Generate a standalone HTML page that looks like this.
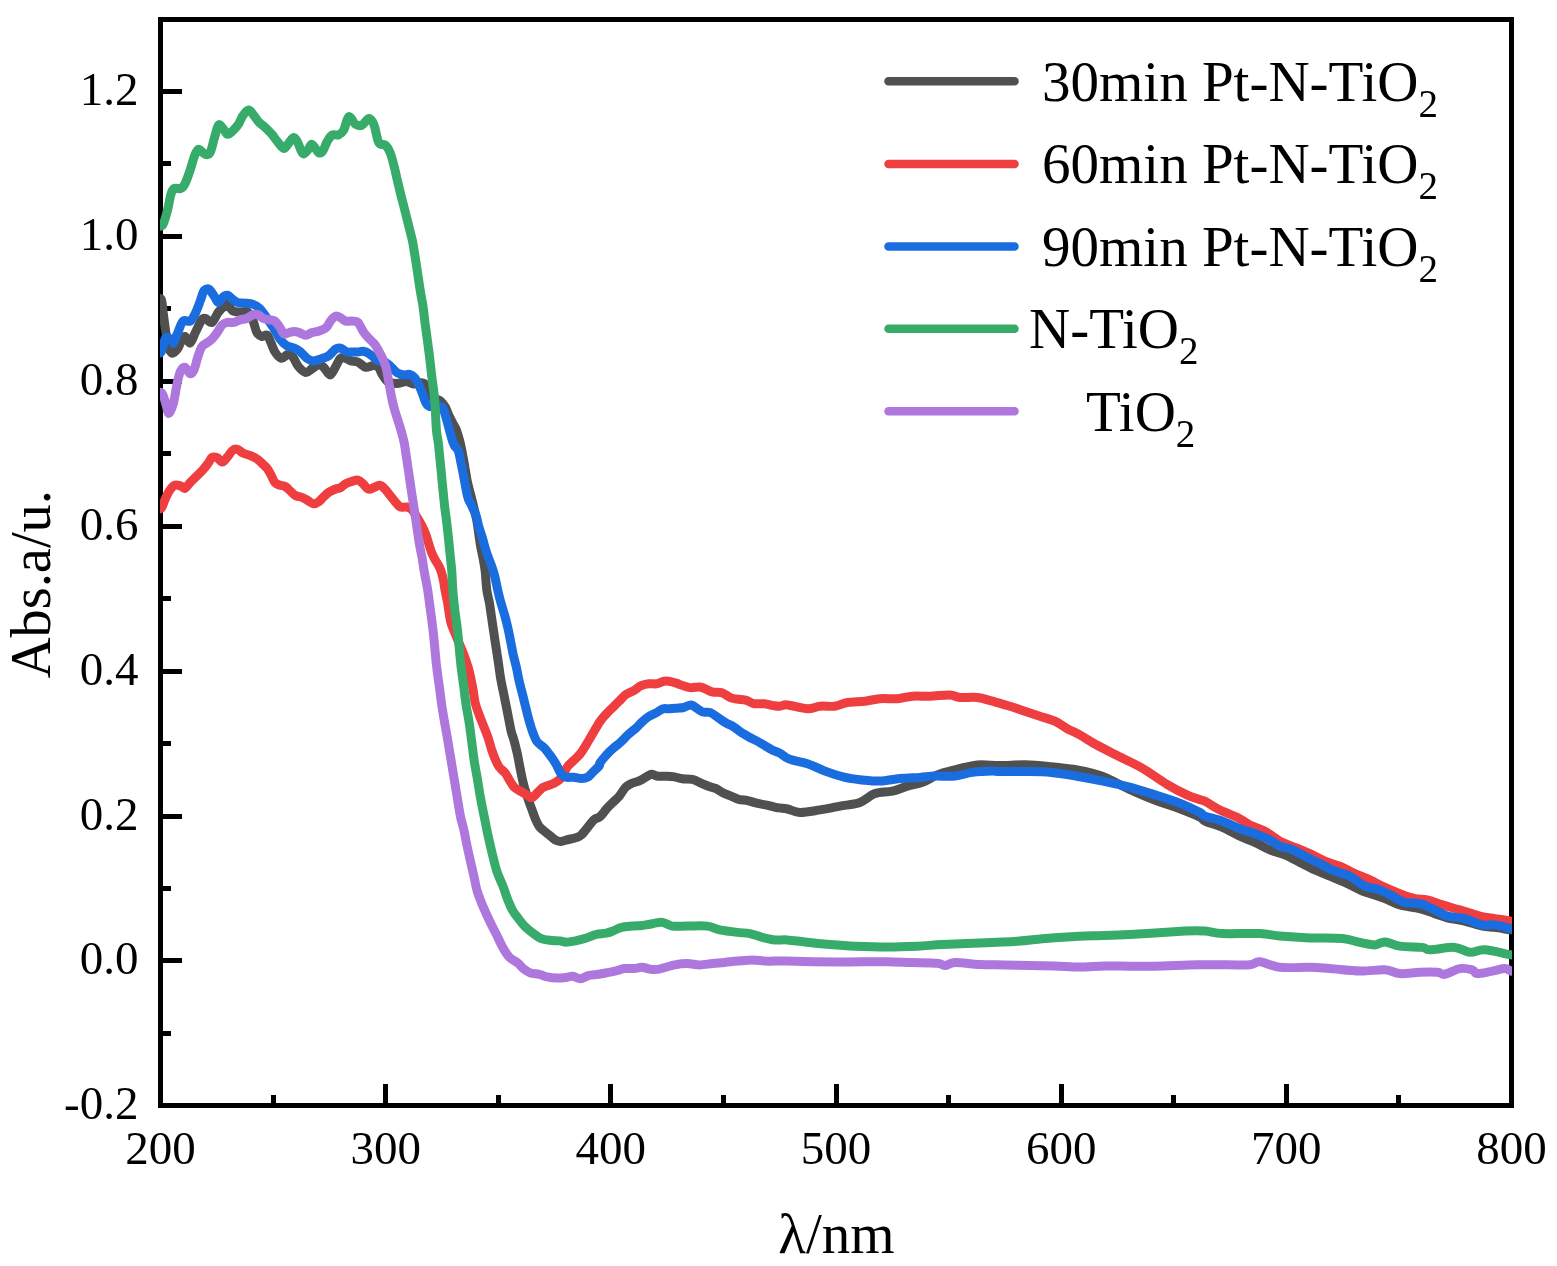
<!DOCTYPE html>
<html><head><meta charset="utf-8"><style>html,body{margin:0;padding:0;background:#fff;overflow:hidden}svg{display:block}</style></head>
<body>
<svg width="1557" height="1266" viewBox="0 0 1557 1266">
<rect width="1557" height="1266" fill="#fff"/>
<defs><clipPath id="c"><rect x="160" y="0" width="1352" height="1266"/></clipPath></defs>
<path d="M160.5,1105.50H182.0M160.5,1033.50H171.0M160.5,960.50H182.0M160.5,888.50H171.0M160.5,816.50H182.0M160.5,743.50H171.0M160.5,671.50H182.0M160.5,598.50H171.0M160.5,526.50H182.0M160.5,453.50H171.0M160.5,381.50H182.0M160.5,308.50H171.0M160.5,236.50H182.0M160.5,163.50H171.0M160.5,91.50H182.0M160.50,1105.5V1084.0M273.50,1105.5V1095.0M385.50,1105.5V1084.0M498.50,1105.5V1095.0M610.50,1105.5V1084.0M723.50,1105.5V1095.0M836.50,1105.5V1084.0M948.50,1105.5V1095.0M1061.50,1105.5V1084.0M1173.50,1105.5V1095.0M1286.50,1105.5V1084.0M1398.50,1105.5V1095.0M1511.50,1105.5V1084.0" stroke="#000" stroke-width="5" fill="none"/>
<rect x="160.5" y="19.5" width="1351.0" height="1086.0" fill="none" stroke="#000" stroke-width="5"/>
<g clip-path="url(#c)" fill="none" stroke-width="9" stroke-linejoin="round" stroke-linecap="round">
<path stroke="#505050" d="M156.0,299.3C156.9,299.3 160.0,297.2 161.2,299.3C162.4,301.4 162.3,306.8 163.1,312.1C163.8,317.5 164.8,325.6 165.7,331.4C166.6,337.2 167.2,343.2 168.3,346.8C169.4,350.4 170.6,352.8 172.1,353.2C173.6,353.6 175.8,351.2 177.3,349.3C178.8,347.4 179.8,343.7 181.1,341.6C182.4,339.5 183.5,336.3 185.0,336.5C186.5,336.7 188.4,343.5 190.1,342.9C191.8,342.2 193.4,336.5 195.3,332.6C197.2,328.8 200.0,322.2 201.7,319.8C203.4,317.4 203.8,318.1 205.5,318.5C207.2,318.9 209.8,323.5 211.9,322.4C214.1,321.3 216.2,314.9 218.4,312.1C220.6,309.3 223.2,307.0 224.8,305.7C226.4,304.4 226.7,303.5 228.0,304.4C229.3,305.2 230.5,309.5 232.5,310.8C234.5,312.1 237.6,311.9 240.2,312.1C242.8,312.3 245.8,310.6 247.9,312.1C250.1,313.6 251.6,317.7 253.1,321.1C254.6,324.5 255.4,330.0 256.9,332.6C258.4,335.2 260.3,336.1 262.0,336.5C263.7,336.9 265.7,334.1 267.2,335.2C268.7,336.3 269.7,340.1 271.0,342.9C272.3,345.7 273.2,349.3 274.9,351.9C276.6,354.5 279.2,357.9 281.3,358.3C283.4,358.7 285.8,354.7 287.7,354.5C289.6,354.3 291.2,355.1 292.9,357.0C294.6,358.9 295.9,363.4 298.0,366.0C300.1,368.6 303.3,372.1 305.7,372.5C308.1,372.9 310.0,369.9 312.1,368.6C314.2,367.3 316.7,365.0 318.6,364.8C320.5,364.6 321.8,365.6 323.7,367.3C325.6,369.0 328.2,375.0 330.1,375.0C332.0,375.0 333.6,370.1 335.3,367.3C337.0,364.5 338.7,359.8 340.4,358.3C342.1,356.8 343.8,357.9 345.5,358.3C347.2,358.7 348.6,360.2 350.7,360.9C352.8,361.5 355.5,361.1 358.0,362.2C360.5,363.3 363.1,366.8 365.7,367.3C368.3,367.8 371.2,365.4 373.4,365.4C375.5,365.4 377.2,365.9 378.6,367.3C380.0,368.7 380.3,371.4 381.8,373.7C383.3,376.0 385.1,379.8 387.5,381.4C389.9,383.0 393.9,383.3 396.5,383.4C399.1,383.5 401.3,382.4 403.0,382.1C404.7,381.8 405.1,381.1 406.8,381.4C408.5,381.7 411.1,383.8 413.2,384.0C415.3,384.2 417.8,382.7 419.7,382.7C421.6,382.7 423.3,382.3 424.8,384.0C426.3,385.7 427.1,390.6 428.6,393.0C430.1,395.4 431.9,396.8 433.8,398.1C435.7,399.4 438.3,399.2 440.2,400.7C442.1,402.2 443.8,404.5 445.3,407.1C446.8,409.7 447.9,413.3 449.2,416.1C450.5,418.9 451.9,421.5 453.1,423.8C454.3,426.1 455.2,426.8 456.4,430.0C457.6,433.2 459.1,438.5 460.2,442.8C461.3,447.1 462.0,451.4 462.8,455.7C463.6,460.0 464.4,464.2 465.1,468.5C465.9,472.8 466.4,477.1 467.3,481.4C468.2,485.7 469.4,489.9 470.5,494.2C471.6,498.5 472.7,502.7 473.7,507.0C474.7,511.3 475.9,515.6 476.7,519.9C477.5,524.2 478.0,528.4 478.6,532.7C479.2,537.0 479.8,541.3 480.5,545.6C481.2,549.9 482.3,554.1 483.1,558.4C483.9,562.7 484.6,566.0 485.2,571.3C485.8,576.6 486.1,584.8 486.8,590.0C487.5,595.2 488.6,598.5 489.4,602.8C490.1,607.1 490.7,611.4 491.3,615.7C491.9,620.0 492.6,624.2 493.2,628.5C493.8,632.8 494.5,637.1 495.1,641.4C495.8,645.7 496.5,649.9 497.1,654.2C497.8,658.5 498.4,662.7 499.0,667.0C499.6,671.3 500.1,675.6 500.9,679.9C501.6,684.2 502.6,688.4 503.5,692.7C504.4,697.0 505.2,701.3 506.1,705.6C507.0,709.9 507.8,714.1 508.6,718.4C509.5,722.7 510.3,727.7 511.2,731.3C512.1,734.9 512.9,736.4 513.9,740.0C514.9,743.6 516.1,748.5 517.1,752.8C518.1,757.1 518.8,761.4 519.6,765.7C520.5,770.0 521.3,774.6 522.2,778.5C523.1,782.4 523.7,785.1 524.8,788.8C525.9,792.4 527.4,797.0 528.6,800.4C529.8,803.8 530.7,806.3 531.8,809.3C532.9,812.3 533.9,815.5 535.1,818.3C536.3,821.1 537.6,824.1 538.9,826.0C540.2,827.9 541.1,828.4 542.8,829.9C544.5,831.4 547.1,833.3 549.2,835.0C551.3,836.7 553.7,839.1 555.6,840.2C557.5,841.3 558.6,841.5 560.7,841.4C562.9,841.3 565.9,840.1 568.5,839.5C571.1,838.9 574.1,838.4 576.2,837.6C578.3,836.9 579.4,836.7 581.3,835.0C583.2,833.3 585.6,829.9 587.7,827.3C589.8,824.7 592.1,821.4 594.1,819.6C596.1,817.8 598.0,818.5 600.0,816.7C602.0,814.9 604.3,811.4 606.4,809.0C608.5,806.6 610.6,804.6 612.8,802.5C614.9,800.4 617.1,798.7 619.3,796.1C621.4,793.5 623.6,789.2 625.7,787.1C627.8,785.0 629.8,784.4 632.1,783.3C634.5,782.2 637.4,781.8 639.8,780.7C642.1,779.6 644.3,778.0 646.2,776.9C648.1,775.8 649.5,774.4 651.4,774.3C653.3,774.2 655.2,775.9 657.8,776.2C660.4,776.5 664.0,776.1 666.8,776.2C669.6,776.3 671.9,776.5 674.5,776.9C677.1,777.3 679.2,778.4 682.2,778.8C685.2,779.2 689.3,778.6 692.5,779.4C695.7,780.1 698.7,782.1 701.5,783.3C704.3,784.5 706.9,785.6 709.2,786.5C711.6,787.4 713.2,787.3 715.6,788.4C718.0,789.5 720.7,791.6 723.3,792.9C725.9,794.2 728.4,795.0 731.0,796.1C733.6,797.2 735.9,798.5 738.7,799.3C741.5,800.0 744.7,800.0 747.7,800.6C750.7,801.2 753.5,802.5 756.7,803.2C759.9,804.0 763.6,804.4 767.0,805.1C770.4,805.9 773.9,807.1 777.3,807.7C780.7,808.4 783.7,808.2 787.5,809.0C791.3,809.8 794.6,812.2 800.0,812.4C805.4,812.5 813.3,810.9 820.0,809.9C826.7,808.9 833.4,807.4 840.0,806.1C846.6,804.9 854.1,804.5 859.9,802.4C865.7,800.3 869.5,795.5 874.9,793.6C880.3,791.7 887.0,792.4 892.4,791.1C897.8,789.9 902.4,787.6 907.4,786.1C912.4,784.6 917.4,784.3 922.4,782.4C927.4,780.5 932.0,777.0 937.4,774.9C942.8,772.8 948.2,771.6 954.9,769.9C961.6,768.2 969.9,765.6 977.4,764.9C984.9,764.2 992.0,765.6 1000.0,765.6C1008.0,765.6 1017.1,764.5 1025.7,764.7C1034.3,764.9 1042.8,765.9 1051.4,766.8C1060.0,767.7 1068.5,768.4 1077.1,770.0C1085.7,771.6 1094.2,773.3 1102.8,776.5C1111.4,779.7 1120.0,785.1 1128.5,789.0C1137.0,792.9 1145.5,796.6 1154.1,799.9C1162.6,803.2 1172.1,805.9 1179.8,808.8C1187.5,811.7 1195.8,815.1 1200.0,817.2C1204.2,819.3 1201.2,819.5 1205.0,821.2C1208.8,822.9 1216.7,824.9 1222.5,827.4C1228.3,829.9 1234.5,833.7 1239.9,836.2C1245.3,838.7 1249.9,840.1 1254.9,842.4C1259.9,844.7 1264.9,847.8 1269.9,849.9C1274.9,852.0 1279.9,852.8 1284.9,854.9C1289.9,857.0 1294.9,859.9 1299.9,862.4C1304.9,864.9 1309.9,867.6 1314.9,869.9C1319.9,872.2 1324.9,874.1 1329.9,876.2C1334.9,878.3 1339.9,880.1 1344.9,882.4C1349.9,884.7 1355.7,888.0 1359.9,889.9C1364.1,891.8 1365.7,892.1 1369.9,893.6C1374.1,895.1 1379.9,896.7 1384.9,898.6C1389.9,900.5 1394.0,903.2 1399.8,904.9C1405.6,906.6 1414.0,907.1 1419.8,908.6C1425.6,910.1 1430.2,912.1 1434.8,913.6C1439.4,915.1 1442.3,916.6 1447.3,917.9C1452.3,919.1 1459.0,919.7 1464.8,921.1C1470.6,922.5 1477.3,925.1 1482.3,926.1C1487.3,927.1 1490.0,926.8 1494.8,927.4C1499.6,928.0 1507.5,929.5 1511.0,929.9C1514.5,930.3 1515.2,929.9 1516.0,929.9"/>
<path stroke="#EE3E3F" d="M156.0,508.3C156.9,508.3 159.7,509.8 161.2,508.3C162.7,506.8 163.7,502.3 165.1,499.3C166.5,496.3 168.0,492.8 169.6,490.4C171.2,488.0 172.9,485.9 174.7,485.2C176.5,484.4 178.8,485.4 180.5,485.9C182.2,486.4 183.4,488.9 185.0,488.4C186.6,487.8 188.2,484.6 190.1,482.6C192.0,480.6 194.3,478.3 196.5,476.2C198.7,474.1 201.1,471.9 203.0,469.8C204.9,467.7 206.6,465.4 208.1,463.4C209.6,461.4 210.4,458.6 211.9,457.6C213.4,456.6 215.4,456.9 217.1,457.6C218.8,458.4 220.5,462.2 222.2,462.1C223.9,462.0 225.7,458.9 227.4,457.0C229.1,455.1 230.8,451.8 232.5,450.5C234.2,449.2 235.9,448.9 237.6,449.3C239.3,449.7 240.7,452.0 242.8,453.1C245.0,454.2 248.2,454.7 250.5,455.7C252.8,456.7 255.0,457.6 256.9,458.9C258.8,460.2 260.3,461.8 262.0,463.4C263.7,465.0 265.7,466.6 267.2,468.5C268.7,470.4 269.7,472.5 271.0,474.9C272.3,477.2 273.4,480.9 274.9,482.6C276.4,484.3 278.3,484.6 280.0,485.2C281.7,485.8 283.5,485.5 285.2,486.5C286.9,487.5 288.6,489.5 290.3,491.0C292.0,492.5 293.5,494.4 295.4,495.5C297.3,496.6 300.0,496.6 301.9,497.4C303.8,498.1 305.1,498.9 307.0,500.0C308.9,501.1 311.5,503.5 313.4,503.8C315.3,504.1 316.9,503.1 318.6,501.9C320.3,500.7 322.0,498.4 323.7,496.8C325.4,495.2 326.9,493.6 328.8,492.3C330.7,491.0 333.4,489.9 335.3,489.1C337.2,488.4 338.7,488.7 340.4,487.8C342.1,486.9 343.6,485.0 345.5,483.9C347.4,482.8 349.9,482.0 352.0,481.4C354.1,480.8 356.1,479.7 358.0,480.1C359.9,480.5 361.4,482.4 363.1,483.9C364.8,485.4 366.6,488.5 368.3,489.1C370.0,489.8 371.5,488.5 373.4,487.8C375.3,487.1 377.9,485.0 379.8,485.2C381.7,485.4 383.3,487.4 385.0,489.1C386.7,490.8 388.4,493.4 390.1,495.5C391.8,497.6 393.6,500.0 395.3,501.9C397.0,503.8 398.5,506.1 400.4,507.0C402.3,507.9 404.9,506.6 406.8,507.0C408.7,507.4 410.2,507.9 411.9,509.6C413.6,511.3 415.4,514.5 417.1,517.3C418.8,520.1 420.7,523.3 422.2,526.3C423.7,529.3 424.9,532.1 426.1,535.3C427.3,538.5 428.3,542.6 429.3,545.6C430.3,548.6 430.9,550.9 431.9,553.3C432.9,555.6 433.9,557.6 435.1,559.7C436.3,561.8 437.8,564.0 438.9,566.1C440.0,568.2 440.8,570.1 441.5,572.5C442.2,574.9 442.8,577.3 443.4,580.2C444.0,583.1 444.3,586.2 445.0,590.0C445.7,593.8 446.6,597.4 447.6,602.8C448.6,608.1 449.2,616.1 450.8,622.1C452.4,628.1 455.2,633.4 457.3,638.8C459.4,644.1 461.8,649.1 463.7,654.2C465.6,659.3 467.3,664.0 468.8,669.6C470.3,675.2 471.6,682.0 472.7,687.6C473.8,693.2 474.1,698.5 475.2,703.0C476.3,707.5 477.7,710.8 479.1,714.6C480.5,718.5 482.1,722.2 483.6,726.1C485.1,730.0 486.8,733.9 488.1,737.7C489.4,741.5 490.2,745.4 491.4,749.0C492.6,752.6 493.9,756.3 495.2,759.3C496.5,762.3 497.4,764.6 499.1,767.0C500.8,769.4 503.7,771.0 505.5,773.4C507.3,775.8 508.5,778.8 510.0,781.1C511.5,783.5 512.7,785.8 514.5,787.5C516.3,789.2 518.8,790.1 520.9,791.4C523.0,792.7 525.5,794.1 527.3,795.2C529.1,796.3 530.1,798.2 531.8,797.8C533.5,797.4 535.8,794.3 537.6,792.6C539.4,790.9 541.1,788.7 542.8,787.5C544.5,786.3 546.2,786.2 547.9,785.6C549.6,785.0 550.9,784.9 553.0,783.7C555.1,782.5 558.3,781.3 560.7,778.5C563.1,775.7 565.1,770.0 567.2,767.0C569.4,764.0 571.5,762.6 573.6,760.5C575.7,758.4 578.1,756.5 580.0,754.1C581.9,751.8 583.7,748.8 585.2,746.4C586.7,744.0 586.5,744.1 589.0,740.0C591.5,735.9 597.1,726.0 600.0,721.6C602.9,717.2 604.3,716.2 606.4,713.9C608.5,711.5 610.6,709.6 612.8,707.5C614.9,705.4 617.1,703.2 619.3,701.1C621.4,699.0 623.4,696.4 625.7,694.7C628.1,693.0 630.8,692.3 633.4,690.8C636.0,689.3 638.5,686.9 641.1,685.7C643.7,684.5 646.2,684.1 648.8,683.8C651.4,683.5 653.9,684.2 656.5,683.8C659.1,683.4 661.6,681.5 664.2,681.2C666.8,680.9 669.3,681.3 671.9,681.8C674.5,682.3 676.6,683.4 679.6,684.4C682.6,685.4 686.5,687.2 689.9,687.6C693.3,688.0 697.2,686.6 700.2,687.0C703.2,687.4 705.8,689.4 707.9,690.2C710.0,691.1 710.6,691.7 713.0,692.1C715.4,692.5 719.0,691.7 722.0,692.7C725.0,693.7 728.2,696.8 731.0,697.9C733.8,699.0 736.1,698.8 738.7,699.2C741.3,699.6 743.8,699.6 746.4,700.4C749.0,701.1 751.1,703.2 754.1,703.7C757.1,704.2 761.2,703.4 764.4,703.7C767.6,704.0 770.8,705.2 773.4,705.6C776.0,706.0 777.4,706.3 779.8,706.2C782.1,706.1 782.9,704.5 787.5,704.9C792.1,705.3 802.1,708.5 807.5,708.7C812.9,708.9 815.4,706.6 820.0,706.2C824.6,705.8 830.4,706.8 835.0,706.2C839.6,705.6 842.5,703.3 847.5,702.5C852.5,701.7 859.5,701.8 864.9,701.2C870.3,700.6 874.5,699.1 879.9,698.7C885.3,698.3 892.0,699.1 897.4,698.7C902.8,698.3 907.0,696.6 912.4,696.2C917.8,695.8 923.6,696.4 929.9,696.2C936.1,696.0 944.9,694.8 949.9,695.0C954.9,695.2 955.3,697.1 959.9,697.5C964.5,697.9 972.0,696.9 977.4,697.5C982.8,698.1 987.0,699.8 992.4,701.2C997.8,702.7 1004.5,704.5 1009.9,706.2C1015.3,707.9 1019.8,709.5 1024.8,711.2C1029.8,712.9 1034.8,714.5 1039.8,716.2C1044.8,717.9 1050.2,719.1 1054.8,721.2C1059.4,723.3 1063.1,726.4 1067.3,728.7C1071.5,731.0 1075.0,732.2 1079.8,734.9C1084.6,737.6 1090.3,741.5 1096.3,744.8C1102.3,748.1 1108.1,751.0 1115.6,754.8C1123.1,758.6 1132.7,762.7 1141.3,767.6C1149.9,772.5 1159.5,779.8 1167.0,784.3C1174.5,788.8 1180.8,792.0 1186.3,794.6C1191.8,797.2 1196.9,798.6 1200.0,799.7C1203.1,800.8 1201.7,799.5 1205.0,801.2C1208.3,802.9 1214.6,807.3 1220.0,810.0C1225.4,812.7 1232.5,815.0 1237.5,817.5C1242.5,820.0 1245.3,822.6 1249.9,824.9C1254.5,827.2 1259.9,828.5 1264.9,831.2C1269.9,833.9 1274.9,838.5 1279.9,841.2C1284.9,843.9 1289.9,845.3 1294.9,847.4C1299.9,849.5 1304.9,851.4 1309.9,853.7C1314.9,856.0 1319.9,859.1 1324.9,861.2C1329.9,863.3 1334.9,864.1 1339.9,866.2C1344.9,868.3 1349.9,871.4 1354.9,873.7C1359.9,876.0 1364.9,877.6 1369.9,879.9C1374.9,882.2 1379.9,885.1 1384.9,887.4C1389.9,889.7 1394.8,891.7 1399.8,893.6C1404.8,895.5 1410.2,897.6 1414.8,898.6C1419.4,899.6 1422.7,898.9 1427.3,899.9C1431.9,900.9 1436.9,903.2 1442.3,904.9C1447.7,906.6 1453.5,908.0 1459.8,909.9C1466.0,911.8 1474.0,914.6 1479.8,916.1C1485.6,917.6 1489.6,917.8 1494.8,918.6C1500.0,919.4 1507.5,920.7 1511.0,921.1C1514.5,921.5 1515.2,921.1 1516.0,921.1"/>
<path stroke="#1A6DDE" d="M156.0,351.9C156.9,351.9 159.6,354.2 161.2,351.9C162.8,349.5 163.9,339.7 165.7,337.8C167.5,335.9 170.8,339.5 172.1,340.4C173.4,341.2 172.5,344.0 173.4,342.9C174.3,341.8 175.7,337.5 177.3,333.9C178.9,330.3 180.9,323.2 183.0,321.1C185.1,319.0 188.0,322.4 190.1,321.1C192.2,319.8 193.6,316.8 195.3,313.4C197.0,310.0 198.9,304.4 200.4,300.5C201.9,296.6 202.7,292.1 204.2,290.3C205.7,288.5 207.7,288.5 209.4,289.6C211.1,290.7 213.0,294.6 214.5,296.7C216.0,298.8 216.9,302.5 218.4,302.5C219.9,302.5 221.9,297.9 223.5,296.7C225.1,295.5 226.5,295.0 228.0,295.4C229.5,295.8 230.9,298.1 232.5,299.3C234.1,300.5 235.5,301.9 237.6,302.5C239.7,303.1 242.7,302.8 245.3,303.1C247.9,303.4 250.7,303.5 253.1,304.4C255.5,305.3 257.6,306.6 259.5,308.3C261.4,310.0 262.9,312.4 264.6,314.7C266.3,317.0 268.1,319.8 269.8,322.4C271.5,325.0 273.2,327.3 274.9,330.1C276.6,332.9 278.1,336.5 280.0,339.1C281.9,341.7 284.1,344.0 286.5,345.5C288.9,347.0 291.8,347.0 294.2,348.1C296.6,349.2 298.5,350.2 300.6,351.9C302.7,353.6 304.9,356.8 307.0,358.3C309.1,359.8 310.8,360.9 313.4,360.9C316.0,360.9 319.8,359.1 322.4,358.3C325.0,357.5 326.6,357.3 328.8,355.8C331.0,354.3 333.4,350.6 335.3,349.3C337.2,348.0 338.5,347.7 340.4,348.1C342.3,348.5 344.7,351.3 346.8,351.9C348.9,352.5 351.3,351.9 353.2,351.9C355.1,351.9 356.4,352.0 358.0,351.9C359.6,351.8 361.4,351.1 363.1,351.3C364.8,351.5 366.6,352.2 368.3,353.2C370.0,354.1 371.7,355.7 373.4,357.0C375.1,358.3 376.7,360.0 378.6,360.9C380.5,361.8 383.3,361.5 385.0,362.2C386.7,362.9 387.5,363.7 388.8,364.8C390.1,365.9 391.2,367.2 392.7,368.6C394.2,370.0 395.9,372.0 397.8,373.1C399.7,374.2 402.3,374.8 404.2,375.0C406.1,375.2 407.7,374.0 409.4,374.4C411.1,374.8 413.0,376.0 414.5,377.6C416.0,379.2 417.1,381.4 418.4,384.0C419.7,386.6 420.9,389.8 422.2,393.0C423.5,396.2 424.8,401.1 426.1,403.3C427.4,405.6 428.4,406.2 429.9,406.5C431.4,406.8 433.4,405.2 435.1,405.2C436.8,405.2 438.7,405.5 440.2,406.5C441.7,407.5 442.0,404.9 444.1,411.0C446.2,417.1 450.8,436.2 453.1,442.8C455.5,449.4 456.9,447.3 458.2,450.5C459.5,453.7 460.1,458.7 460.8,462.1C461.6,465.5 462.1,467.9 462.7,471.1C463.3,474.3 464.0,478.0 464.6,481.4C465.2,484.8 465.9,488.6 466.5,491.6C467.1,494.6 467.5,496.7 468.5,499.3C469.5,501.9 471.0,504.2 472.3,507.0C473.6,509.8 475.1,512.8 476.2,516.0C477.3,519.2 477.7,522.9 478.7,526.3C479.7,529.7 481.0,533.4 482.0,536.6C483.0,539.8 483.6,542.4 484.5,545.6C485.4,548.8 486.5,552.4 487.7,555.8C488.9,559.2 490.4,562.7 491.6,566.1C492.8,569.5 493.8,572.4 494.8,576.4C495.8,580.4 496.7,585.6 497.7,590.0C498.7,594.4 499.7,598.5 500.9,602.8C502.1,607.1 503.6,611.4 504.8,615.7C506.0,620.0 507.0,624.2 508.0,628.5C509.0,632.8 509.8,637.1 510.6,641.4C511.5,645.7 512.2,649.9 513.1,654.2C514.0,658.5 515.3,662.7 516.3,667.0C517.3,671.3 517.9,675.6 518.9,679.9C519.9,684.2 521.0,688.4 522.1,692.7C523.2,697.0 524.2,701.3 525.3,705.6C526.4,709.9 527.3,714.1 528.5,718.4C529.7,722.7 531.0,727.4 532.4,731.3C533.8,735.1 535.0,738.8 536.9,741.5C538.8,744.2 542.0,745.6 544.0,747.7C546.0,749.8 547.7,752.2 549.2,754.1C550.7,756.0 551.7,757.4 553.0,759.3C554.3,761.2 555.6,763.4 556.9,765.7C558.2,768.1 559.2,771.5 560.7,773.4C562.2,775.3 563.8,776.6 565.9,777.2C568.0,777.8 571.0,777.0 573.6,777.2C576.2,777.4 578.9,778.5 581.3,778.5C583.6,778.5 585.8,778.3 587.7,777.2C589.6,776.1 591.0,774.0 592.9,772.1C594.8,770.2 598.1,767.3 599.3,765.7C600.5,764.1 598.8,764.5 600.0,762.7C601.2,760.9 604.3,757.4 606.4,755.0C608.5,752.6 610.4,750.7 612.8,748.6C615.2,746.5 618.0,744.6 620.6,742.2C623.2,739.9 625.7,736.9 628.3,734.5C630.9,732.1 633.6,730.2 636.0,728.1C638.4,726.0 640.3,723.5 642.4,721.6C644.5,719.7 646.4,718.0 648.8,716.5C651.1,715.0 654.1,713.9 656.5,712.6C658.9,711.3 660.8,709.4 662.9,708.8C665.0,708.2 667.0,708.9 669.4,708.8C671.8,708.7 674.8,708.4 677.1,708.2C679.5,708.0 681.1,708.0 683.5,707.5C685.9,707.0 688.9,704.7 691.2,704.9C693.6,705.1 695.7,707.6 697.6,708.8C699.5,710.0 700.6,711.4 702.8,712.0C704.9,712.6 707.9,711.6 710.5,712.6C713.1,713.6 715.6,716.1 718.2,717.8C720.8,719.5 723.3,721.4 725.9,722.9C728.5,724.4 731.0,725.2 733.6,726.8C736.2,728.4 738.7,730.9 741.3,732.6C743.9,734.3 746.4,735.6 749.0,737.0C751.6,738.4 754.1,739.5 756.7,740.9C759.3,742.3 761.8,743.9 764.4,745.4C767.0,746.9 769.5,748.6 772.1,749.9C774.7,751.2 777.4,751.8 779.8,753.1C782.2,754.4 784.1,756.4 786.3,757.6C788.4,758.8 789.2,759.2 792.7,760.2C796.2,761.2 802.1,761.9 807.5,763.7C812.9,765.5 818.8,768.8 825.0,771.1C831.2,773.4 838.8,775.9 845.0,777.4C851.2,778.9 856.6,779.3 862.4,779.9C868.2,780.5 873.6,781.3 879.9,781.1C886.1,780.9 893.2,779.2 899.9,778.6C906.6,778.0 914.1,777.8 919.9,777.4C925.7,777.0 929.1,776.3 934.9,776.1C940.7,775.9 948.6,776.7 954.9,776.1C961.1,775.5 966.1,773.2 972.4,772.4C978.6,771.6 987.8,771.2 992.4,771.1C997.0,771.0 994.5,771.4 1000.0,771.5C1005.5,771.6 1017.1,771.4 1025.7,771.5C1034.3,771.6 1042.8,771.6 1051.4,772.4C1060.0,773.2 1068.5,774.8 1077.1,776.2C1085.7,777.7 1094.2,779.3 1102.8,781.1C1111.4,782.9 1120.0,784.6 1128.5,786.9C1137.0,789.1 1145.5,791.9 1154.1,794.6C1162.6,797.3 1172.1,800.2 1179.8,803.2C1187.5,806.2 1195.8,810.4 1200.0,812.6C1204.2,814.8 1201.2,814.8 1205.0,816.2C1208.8,817.6 1216.7,819.1 1222.5,821.2C1228.3,823.3 1234.5,826.6 1239.9,828.7C1245.3,830.8 1249.9,831.8 1254.9,833.7C1259.9,835.6 1265.7,837.8 1269.9,839.9C1274.1,842.0 1276.6,844.7 1279.9,846.2C1283.2,847.7 1285.7,847.0 1289.9,848.7C1294.1,850.4 1299.9,853.7 1304.9,856.2C1309.9,858.7 1314.9,861.2 1319.9,863.7C1324.9,866.2 1329.9,869.1 1334.9,871.2C1339.9,873.3 1344.9,873.7 1349.9,876.2C1354.9,878.7 1359.9,883.9 1364.9,886.2C1369.9,888.5 1374.9,888.0 1379.9,889.9C1384.9,891.8 1390.7,895.3 1394.8,897.4C1398.9,899.5 1400.6,901.4 1404.8,902.4C1409.0,903.4 1414.8,902.4 1419.8,903.6C1424.8,904.9 1430.2,907.8 1434.8,909.9C1439.4,912.0 1442.3,914.6 1447.3,916.1C1452.3,917.6 1459.0,917.1 1464.8,918.6C1470.6,920.1 1477.3,923.9 1482.3,924.9C1487.3,925.9 1490.0,924.3 1494.8,924.9C1499.6,925.5 1507.5,928.0 1511.0,928.6C1514.5,929.2 1515.2,928.6 1516.0,928.6"/>
<path stroke="#37AB6A" d="M156.0,225.3C157.1,225.3 160.6,227.8 162.5,225.3C164.4,222.8 166.1,215.3 167.5,210.2C168.9,205.0 169.8,198.0 170.9,194.4C172.0,190.8 172.5,189.5 174.2,188.5C175.9,187.5 179.1,189.3 180.9,188.5C182.7,187.7 183.6,186.6 185.1,183.5C186.6,180.4 188.6,174.6 190.1,170.2C191.6,165.8 192.8,160.3 194.2,156.8C195.6,153.3 196.6,149.7 198.4,149.3C200.2,148.9 203.2,153.8 205.1,154.3C207.0,154.9 208.6,155.2 210.1,152.6C211.6,149.9 212.9,143.0 214.3,138.4C215.7,133.8 217.0,126.6 218.5,125.1C220.0,123.6 222.0,127.7 223.5,129.2C225.0,130.7 225.9,134.2 227.6,134.3C229.3,134.5 231.7,131.8 233.5,130.1C235.3,128.4 237.0,126.6 238.5,124.2C240.0,121.8 241.0,118.3 242.7,115.9C244.4,113.5 246.7,110.2 248.5,110.0C250.3,109.8 251.8,113.0 253.5,115.0C255.2,117.0 256.6,119.6 258.5,121.7C260.4,123.8 263.0,125.5 265.2,127.6C267.4,129.7 269.9,132.1 271.9,134.3C273.8,136.5 274.9,138.6 276.9,140.9C278.8,143.2 281.7,148.0 283.6,148.4C285.6,148.8 286.9,145.2 288.6,143.4C290.3,141.6 292.1,137.7 293.6,137.6C295.1,137.5 296.3,139.9 297.8,142.6C299.3,145.2 301.1,152.2 302.8,153.5C304.5,154.8 306.3,151.6 307.8,150.1C309.3,148.6 310.2,143.9 312.0,144.3C313.8,144.7 316.8,151.5 318.6,152.6C320.4,153.7 321.4,152.8 322.8,151.0C324.2,149.2 325.5,144.5 327.0,141.8C328.5,139.2 330.1,136.3 332.0,135.1C333.9,133.9 336.8,135.6 338.7,134.8C340.6,134.0 342.0,133.1 343.7,130.1C345.4,127.1 346.8,117.7 348.7,116.7C350.6,115.7 353.2,122.8 355.4,124.2C357.6,125.6 359.9,126.1 362.1,125.1C364.3,124.1 366.8,118.6 368.7,118.4C370.6,118.2 372.1,120.2 373.8,124.2C375.5,128.2 376.9,139.1 378.8,142.6C380.7,146.1 383.5,143.4 385.4,145.1C387.3,146.8 388.7,149.2 390.1,152.6C391.5,156.0 392.8,161.1 393.9,165.3C395.0,169.5 395.8,173.8 396.8,178.0C397.8,182.2 398.8,186.4 399.8,190.6C400.8,194.8 401.9,199.0 403.0,203.2C404.1,207.4 405.1,211.6 406.2,215.8C407.3,220.0 408.3,224.3 409.4,228.5C410.4,232.7 411.6,236.9 412.5,241.1C413.4,245.3 413.9,249.6 414.6,253.8C415.3,258.0 416.0,262.2 416.6,266.4C417.2,270.6 417.9,274.8 418.5,279.0C419.1,283.2 419.7,287.2 420.4,291.7C421.1,296.1 422.2,300.8 422.9,305.7C423.6,310.6 424.2,316.2 424.8,321.1C425.4,326.0 426.1,330.5 426.7,335.2C427.3,339.9 428.0,344.6 428.6,349.3C429.2,354.0 429.8,358.8 430.3,363.5C430.9,368.2 431.3,372.9 431.9,377.6C432.5,382.3 433.3,387.0 433.8,391.7C434.3,396.4 434.7,399.4 435.1,405.8C435.5,412.2 435.9,423.8 436.4,430.0C436.9,436.2 437.8,438.5 438.3,442.8C438.8,447.1 439.2,451.4 439.6,455.7C440.0,460.0 440.5,464.2 440.9,468.5C441.3,472.8 441.7,477.1 442.1,481.4C442.5,485.7 443.0,489.9 443.4,494.2C443.8,498.5 444.2,502.7 444.7,507.0C445.2,511.3 445.9,515.6 446.4,519.9C446.9,524.2 447.4,528.4 447.9,532.7C448.4,537.0 448.8,541.3 449.2,545.6C449.6,549.9 450.1,554.1 450.5,558.4C450.9,562.7 451.4,566.0 451.8,571.3C452.2,576.6 452.3,583.7 452.8,590.0C453.3,596.3 453.9,602.9 454.7,609.3C455.4,615.7 456.6,622.1 457.3,628.5C458.1,634.9 458.6,641.4 459.2,647.8C459.8,654.2 460.4,660.6 461.1,667.0C461.9,673.4 462.9,679.9 463.7,686.3C464.5,692.7 465.2,699.2 466.2,705.6C467.2,712.0 468.2,715.8 469.5,724.8C470.8,733.8 472.7,750.3 474.0,759.3C475.3,768.2 476.2,772.1 477.3,778.5C478.4,784.9 479.3,791.4 480.5,797.8C481.7,804.2 483.0,810.6 484.3,817.0C485.6,823.4 486.8,829.9 488.2,836.3C489.6,842.7 491.2,849.6 492.7,855.6C494.2,861.6 495.5,867.3 497.2,872.3C498.9,877.3 501.1,881.3 502.8,885.7C504.5,890.1 505.7,894.4 507.3,898.5C508.9,902.6 510.5,906.7 512.4,910.1C514.3,913.5 516.7,916.3 518.8,919.1C520.9,921.9 522.9,924.4 525.2,926.8C527.6,929.1 530.3,931.3 532.9,933.2C535.5,935.1 537.8,937.1 540.6,938.3C543.4,939.5 546.4,939.9 549.6,940.3C552.8,940.7 557.1,940.6 559.9,940.9C562.7,941.2 563.7,942.2 566.3,942.2C568.9,942.2 572.1,941.5 575.3,940.9C578.5,940.2 582.2,939.4 585.6,938.3C589.0,937.2 592.5,935.4 595.9,934.5C599.3,933.6 603.2,933.9 606.2,933.2C609.2,932.6 611.3,931.6 613.9,930.6C616.5,929.6 618.6,928.1 621.6,927.4C624.6,926.6 628.4,926.4 631.8,926.1C635.2,925.8 639.1,925.8 642.1,925.5C645.1,925.2 647.4,924.6 649.8,924.2C652.2,923.8 654.1,923.2 656.3,922.9C658.4,922.6 660.0,921.8 662.7,922.3C665.4,922.8 668.2,925.5 672.3,926.1C676.4,926.7 681.5,926.1 687.3,926.1C693.1,926.1 701.9,925.5 707.3,926.1C712.7,926.7 714.8,928.9 719.8,929.9C724.8,930.9 732.3,931.8 737.3,932.4C742.3,933.0 745.6,932.8 749.8,933.6C754.0,934.4 758.1,936.4 762.3,937.4C766.5,938.4 770.6,939.5 774.8,939.9C779.0,940.3 782.3,939.5 787.3,939.9C792.3,940.2 797.9,941.2 805.0,942.0C812.1,942.8 821.7,943.8 830.0,944.5C838.3,945.2 845.4,945.8 855.0,946.2C864.6,946.6 877.0,947.0 887.4,947.0C897.8,947.0 908.2,946.6 917.4,946.2C926.6,945.8 932.0,945.0 942.4,944.5C952.8,944.0 967.4,943.5 979.9,943.0C992.4,942.5 1006.9,941.9 1017.3,941.2C1027.7,940.5 1034.0,939.5 1042.3,938.8C1050.6,938.1 1059.0,937.5 1067.3,937.0C1075.6,936.5 1081.9,936.2 1092.3,935.8C1102.7,935.4 1114.3,935.3 1129.8,934.5C1145.2,933.7 1172.5,931.7 1185.0,931.1C1197.5,930.5 1198.8,930.7 1205.0,931.1C1211.2,931.5 1213.3,933.2 1222.5,933.6C1231.7,934.0 1250.3,933.2 1259.9,933.6C1269.5,934.0 1271.6,935.4 1279.9,936.1C1288.2,936.8 1299.5,937.5 1309.9,937.9C1320.3,938.3 1334.1,937.9 1342.4,938.6C1350.7,939.4 1354.5,941.4 1359.9,942.4C1365.3,943.4 1370.7,945.0 1374.9,944.9C1379.1,944.8 1380.8,941.7 1384.9,941.9C1389.1,942.1 1393.6,945.2 1399.8,946.1C1406.0,947.0 1417.3,946.8 1422.3,947.4C1427.3,948.0 1424.4,949.8 1429.8,949.8C1435.2,949.8 1448.1,947.0 1454.8,947.4C1461.5,947.8 1464.8,951.9 1469.8,952.3C1474.8,952.7 1477.9,949.4 1484.8,949.8C1491.7,950.2 1505.8,954.0 1511.0,954.8C1516.2,955.6 1515.2,954.8 1516.0,954.8"/>
<path stroke="#AE77DD" d="M156.0,393.0C157.0,393.0 160.3,391.3 161.9,393.0C163.5,394.7 164.5,399.9 165.7,403.3C166.9,406.7 167.6,413.5 168.9,413.5C170.2,413.5 172.0,408.4 173.4,403.3C174.8,398.2 176.1,388.1 177.3,382.7C178.5,377.3 179.2,373.8 180.5,371.2C181.8,368.6 183.4,366.9 185.0,367.3C186.6,367.7 188.6,373.3 190.1,373.7C191.6,374.1 192.7,372.7 194.0,369.9C195.3,367.1 196.5,360.9 197.8,357.0C199.1,353.1 200.2,349.2 201.7,346.8C203.2,344.4 205.1,344.2 206.8,342.9C208.5,341.6 210.2,340.8 211.9,339.1C213.6,337.4 215.4,335.0 217.1,332.6C218.8,330.2 220.5,326.6 222.2,324.9C223.9,323.2 225.5,322.8 227.4,322.4C229.3,322.0 231.7,322.8 233.8,322.4C235.9,322.0 238.1,320.4 240.2,319.8C242.3,319.2 244.4,319.4 246.6,318.5C248.8,317.6 251.2,315.3 253.1,314.7C255.0,314.1 256.5,314.1 258.2,314.7C259.9,315.3 261.4,317.6 263.3,318.5C265.2,319.4 267.9,319.4 269.8,319.8C271.7,320.2 273.2,319.8 274.9,321.1C276.6,322.4 278.5,325.4 280.0,327.5C281.5,329.6 282.4,333.0 283.9,333.9C285.4,334.8 287.3,333.0 289.0,332.6C290.7,332.2 292.5,331.4 294.2,331.4C295.9,331.4 297.4,332.0 299.3,332.6C301.2,333.2 303.6,335.2 305.7,335.2C307.8,335.2 309.8,333.4 312.1,332.6C314.5,331.9 317.4,331.6 319.8,330.7C322.2,329.8 324.4,329.3 326.3,327.5C328.2,325.7 329.7,321.7 331.4,319.8C333.1,317.9 334.8,316.2 336.5,316.0C338.2,315.8 340.2,317.6 341.7,318.5C343.2,319.4 343.8,320.7 345.5,321.1C347.2,321.5 349.9,320.9 352.0,321.1C354.1,321.3 356.1,320.7 358.0,322.4C359.9,324.1 361.4,328.8 363.1,331.4C364.8,334.0 366.4,335.7 368.3,337.8C370.2,339.9 372.9,341.9 374.7,344.2C376.5,346.5 377.7,349.1 379.2,351.9C380.7,354.7 382.5,358.1 383.7,360.9C384.9,363.7 385.6,365.6 386.3,368.6C387.1,371.6 387.6,375.5 388.2,378.9C388.8,382.3 389.5,385.7 390.1,389.1C390.7,392.5 391.2,396.0 392.0,399.4C392.8,402.8 393.6,406.3 394.6,409.7C395.6,413.1 396.7,416.6 397.8,420.0C398.9,423.4 399.9,426.4 401.0,430.2C402.1,434.0 403.3,438.6 404.2,442.8C405.1,447.1 405.5,451.4 406.2,455.7C406.9,460.0 407.5,464.2 408.1,468.5C408.7,472.8 409.4,477.1 410.0,481.4C410.6,485.7 411.2,489.9 411.9,494.2C412.5,498.5 413.2,502.7 413.9,507.0C414.5,511.3 415.2,515.6 415.8,519.9C416.4,524.2 417.1,528.4 417.7,532.7C418.3,537.0 418.9,541.3 419.7,545.6C420.4,549.9 421.4,554.1 422.2,558.4C422.9,562.7 423.3,566.0 424.2,571.3C425.1,576.6 426.7,583.7 427.7,590.0C428.7,596.3 429.4,602.9 430.3,609.3C431.2,615.7 432.1,622.1 432.8,628.5C433.6,634.9 434.2,641.4 434.8,647.8C435.4,654.2 435.9,660.6 436.7,667.0C437.4,673.4 438.4,679.9 439.3,686.3C440.2,692.7 440.9,699.2 441.8,705.6C442.8,712.0 444.0,719.1 445.0,724.8C446.0,730.5 446.7,734.2 447.7,740.0C448.7,745.8 449.8,752.9 450.9,759.3C452.0,765.7 453.0,772.1 454.1,778.5C455.2,784.9 456.2,791.4 457.3,797.8C458.4,804.2 459.5,811.6 460.6,817.0C461.7,822.4 462.8,825.1 463.9,830.0C465.0,834.9 466.0,841.1 467.2,846.6C468.4,852.1 469.7,857.8 470.9,863.2C472.1,868.6 473.5,874.5 474.5,879.0C475.5,883.5 475.8,886.3 476.9,890.0C477.9,893.7 479.4,897.4 480.8,901.1C482.2,904.8 483.9,908.4 485.5,912.1C487.1,915.8 488.9,919.5 490.7,923.2C492.5,926.9 495.1,931.9 496.3,934.2C497.5,936.5 496.4,934.6 497.6,937.0C498.8,939.4 501.4,945.2 503.4,948.6C505.4,952.0 507.4,955.2 509.8,957.6C512.1,960.0 515.1,960.8 517.5,962.7C519.9,964.6 521.8,967.4 523.9,969.1C526.0,970.8 527.8,972.1 530.4,973.0C533.0,973.9 536.6,973.6 539.4,974.3C542.2,974.9 544.1,976.3 547.1,976.9C550.1,977.5 554.1,978.0 557.3,978.1C560.5,978.2 563.7,977.8 566.3,977.5C568.9,977.2 570.4,976.0 572.8,976.2C575.2,976.4 577.9,978.9 580.5,978.8C583.1,978.7 585.2,976.4 588.2,975.6C591.2,974.9 595.1,974.8 598.5,974.3C601.9,973.8 605.5,973.0 608.7,972.4C611.9,971.8 615.1,971.0 617.7,970.4C620.3,969.8 621.3,968.8 624.1,968.5C626.9,968.2 631.4,968.7 634.4,968.5C637.4,968.3 639.5,967.1 642.1,967.2C644.7,967.3 647.0,968.8 649.8,969.1C652.6,969.4 654.6,969.8 658.8,969.1C663.0,968.4 670.0,965.8 674.8,964.9C679.5,964.0 683.1,963.6 687.3,963.6C691.5,963.6 695.6,964.9 699.8,964.9C704.0,964.9 708.1,964.0 712.3,963.6C716.5,963.2 720.6,962.8 724.8,962.4C729.0,962.0 732.7,961.5 737.3,961.1C741.9,960.7 747.7,959.9 752.3,959.9C756.9,959.9 761.0,960.9 764.8,961.1C768.5,961.3 771.0,961.1 774.8,961.1C778.5,961.1 781.0,961.0 787.3,961.1C793.6,961.2 804.1,961.6 812.5,961.8C820.9,961.9 829.2,962.0 837.5,962.0C845.8,962.0 854.1,961.8 862.4,961.8C870.7,961.8 879.1,961.7 887.4,961.8C895.7,961.9 904.1,962.3 912.4,962.5C920.7,962.7 932.0,962.7 937.4,963.2C942.8,963.7 942.0,965.6 944.9,965.5C947.8,965.4 949.1,962.7 954.9,962.5C960.7,962.3 971.6,964.1 979.9,964.5C988.2,964.9 996.6,964.8 1004.9,965.0C1013.2,965.2 1021.5,965.3 1029.8,965.5C1038.1,965.7 1046.5,965.8 1054.8,966.0C1063.1,966.2 1071.5,967.0 1079.8,967.0C1088.1,967.0 1096.5,966.1 1104.8,966.0C1113.1,965.9 1121.5,966.2 1129.8,966.2C1138.1,966.2 1143.5,966.4 1154.8,966.2C1166.1,966.0 1185.4,965.0 1197.5,964.8C1209.6,964.6 1218.8,964.8 1227.5,964.8C1236.2,964.8 1244.5,965.3 1249.9,964.8C1255.3,964.3 1254.9,961.4 1259.9,961.8C1264.9,962.2 1271.6,966.4 1279.9,967.3C1288.2,968.2 1301.6,967.1 1309.9,967.3C1318.2,967.5 1321.6,968.0 1329.9,968.6C1338.2,969.2 1350.7,970.9 1359.9,971.1C1369.1,971.3 1378.2,969.4 1384.9,969.8C1391.6,970.2 1394.0,973.2 1399.8,973.6C1405.6,974.0 1413.5,972.5 1419.8,972.3C1426.0,972.1 1433.1,972.0 1437.3,972.3C1441.5,972.6 1441.0,974.9 1444.8,974.3C1448.5,973.7 1455.2,969.4 1459.8,968.6C1464.4,967.9 1469.4,969.0 1472.3,969.8C1475.2,970.6 1474.0,973.4 1477.3,973.6C1480.6,973.8 1487.7,971.9 1492.3,971.1C1496.9,970.3 1501.7,968.6 1504.8,968.6C1507.9,968.6 1509.1,970.7 1511.0,971.1C1512.9,971.5 1515.2,971.1 1516.0,971.1"/>
</g>
<text x="138.5" y="1119.0" font-family="'Liberation Serif', 'Times New Roman', serif" font-size="47" text-anchor="end">-0.2</text>
<text x="138.5" y="974.0" font-family="'Liberation Serif', 'Times New Roman', serif" font-size="47" text-anchor="end">0.0</text>
<text x="138.5" y="830.0" font-family="'Liberation Serif', 'Times New Roman', serif" font-size="47" text-anchor="end">0.2</text>
<text x="138.5" y="685.0" font-family="'Liberation Serif', 'Times New Roman', serif" font-size="47" text-anchor="end">0.4</text>
<text x="138.5" y="540.0" font-family="'Liberation Serif', 'Times New Roman', serif" font-size="47" text-anchor="end">0.6</text>
<text x="138.5" y="395.0" font-family="'Liberation Serif', 'Times New Roman', serif" font-size="47" text-anchor="end">0.8</text>
<text x="138.5" y="250.0" font-family="'Liberation Serif', 'Times New Roman', serif" font-size="47" text-anchor="end">1.0</text>
<text x="138.5" y="105.0" font-family="'Liberation Serif', 'Times New Roman', serif" font-size="47" text-anchor="end">1.2</text>
<text x="160.5" y="1164" font-family="'Liberation Serif', 'Times New Roman', serif" font-size="47" text-anchor="middle">200</text>
<text x="385.7" y="1164" font-family="'Liberation Serif', 'Times New Roman', serif" font-size="47" text-anchor="middle">300</text>
<text x="610.8" y="1164" font-family="'Liberation Serif', 'Times New Roman', serif" font-size="47" text-anchor="middle">400</text>
<text x="836.0" y="1164" font-family="'Liberation Serif', 'Times New Roman', serif" font-size="47" text-anchor="middle">500</text>
<text x="1061.2" y="1164" font-family="'Liberation Serif', 'Times New Roman', serif" font-size="47" text-anchor="middle">600</text>
<text x="1286.3" y="1164" font-family="'Liberation Serif', 'Times New Roman', serif" font-size="47" text-anchor="middle">700</text>
<text x="1511.5" y="1164" font-family="'Liberation Serif', 'Times New Roman', serif" font-size="47" text-anchor="middle">800</text>
<text x="836.5" y="1253" font-family="'Liberation Serif', 'Times New Roman', serif" font-size="57" text-anchor="middle">λ/nm</text>
<text transform="translate(50,584.2) rotate(-90)" x="0" y="0" font-family="'Liberation Serif', 'Times New Roman', serif" font-size="56.5" text-anchor="middle">Abs.a/u.</text>
<line x1="888.5" y1="81.3" x2="1014.5" y2="81.3" stroke="#505050" stroke-width="8.5" stroke-linecap="round"/>
<text x="1042" y="100.8" font-family="'Liberation Serif', 'Times New Roman', serif" font-size="57">30min Pt-N-TiO<tspan font-size="39" dy="16">2</tspan></text>
<line x1="888.5" y1="163.9" x2="1014.5" y2="163.9" stroke="#EE3E3F" stroke-width="8.5" stroke-linecap="round"/>
<text x="1042" y="183.4" font-family="'Liberation Serif', 'Times New Roman', serif" font-size="57">60min Pt-N-TiO<tspan font-size="39" dy="16">2</tspan></text>
<line x1="888.5" y1="246.5" x2="1014.5" y2="246.5" stroke="#1A6DDE" stroke-width="8.5" stroke-linecap="round"/>
<text x="1042" y="266.0" font-family="'Liberation Serif', 'Times New Roman', serif" font-size="57">90min Pt-N-TiO<tspan font-size="39" dy="16">2</tspan></text>
<line x1="888.5" y1="328.7" x2="1014.5" y2="328.7" stroke="#37AB6A" stroke-width="8.5" stroke-linecap="round"/>
<text x="1029" y="348.2" font-family="'Liberation Serif', 'Times New Roman', serif" font-size="57">N-TiO<tspan font-size="39" dy="16">2</tspan></text>
<line x1="888.5" y1="411.3" x2="1014.5" y2="411.3" stroke="#AE77DD" stroke-width="8.5" stroke-linecap="round"/>
<text x="1086" y="430.8" font-family="'Liberation Serif', 'Times New Roman', serif" font-size="57">TiO<tspan font-size="39" dy="16">2</tspan></text>
</svg>
</body></html>
